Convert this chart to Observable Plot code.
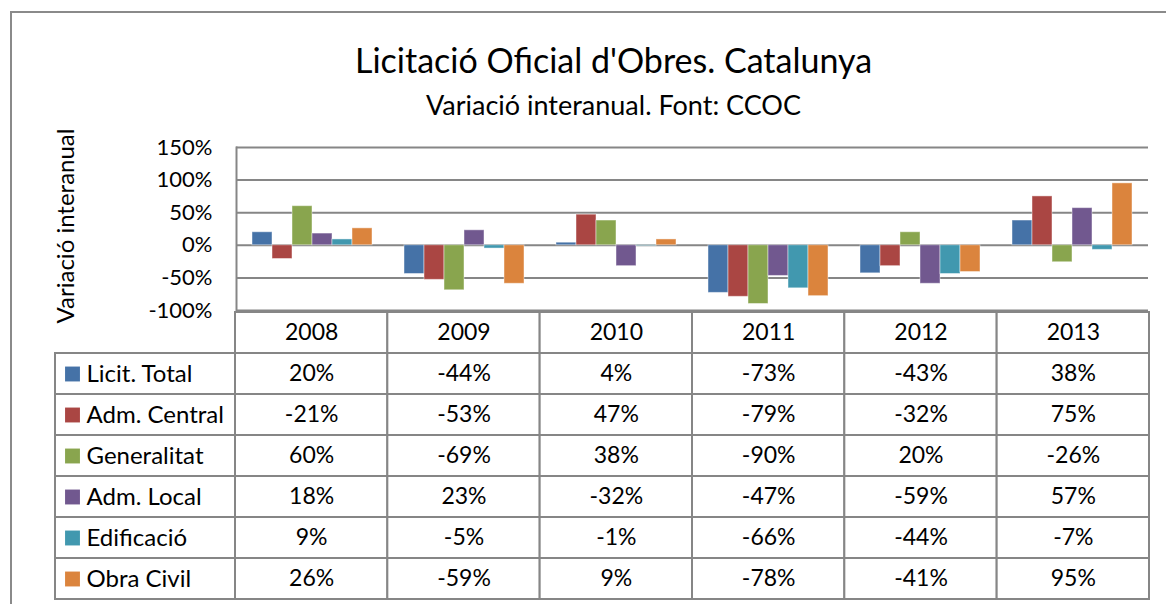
<!DOCTYPE html>
<html>
<head>
<meta charset="utf-8">
<script src="https://cdn.jsdelivr.net/npm/d3@7"></script>
<script src="https://cdn.jsdelivr.net/npm/@observablehq/plot@0.6"></script>
<style>
  html, body { margin: 0; padding: 0; background: #fff; }
  #wrap { position: relative; width: 1166px; height: 604px; overflow: hidden; font-family: Lato, "Noto Sans", sans-serif; color: #000; }
  #border { position: absolute; left: 10px; top: 11px; width: 1300px; height: 700px; border: 2px solid #8a8a8a; box-sizing: border-box; }
  #title { position: absolute; left: 0; width: 1227px; top: 43px; text-align: center; font-size: 34px; line-height: 1; }
  #subtitle { position: absolute; left: 0; width: 1227px; top: 91px; text-align: center; font-size: 27px; line-height: 1; }
  #chart { position: absolute; left: 0; top: 0; }
  #table { position: absolute; left: 0; top: 309px; }
</style>
</head>
<body>
<div id="wrap">
  <div id="border"></div>
  <div id="title">Licitació Oficial d'Obres. Catalunya</div>
  <div id="subtitle">Variació interanual. Font: CCOC</div>
  <div id="chart"></div>
  <div id="table"></div>
</div>
<script>
const years = ["2008", "2009", "2010", "2011", "2012", "2013"];
const series = ["Licit. Total", "Adm. Central", "Generalitat", "Adm. Local", "Edificació", "Obra Civil"];
const licitTotal = [20, -44, 4, -73, -43, 38];
const admCentral = [-21, -53, 47, -79, -32, 75];
const generalitat = [60, -69, 38, -90, 20, -26];
const admLocal = [18, 23, -32, -47, -59, 57];
const edificacio = [9, -5, -1, -66, -44, -7];
const obraCivil = [26, -59, 9, -78, -41, 95];
const colors = ["#4572A7", "#AA4643", "#89A54E", "#71588F", "#4198AF", "#DB843D"];
const yTicks = [-100, -50, 0, 50, 100, 150];
const yLabel = "Variació interanual";

const seriesValues = [licitTotal, admCentral, generalitat, admLocal, edificacio, obraCivil];
const rows = [];
series.forEach((s, si) => years.forEach((y, yi) => rows.push({series: s, year: y, yi, value: seriesValues[si][yi]})));

const FONT = "Lato, 'Noto Sans', sans-serif";
const GRID = "#868686";
const pct = d => d + "%";

const chart = Plot.plot({
  width: 1166,
  height: 312,
  marginTop: 147,
  marginBottom: 2,
  marginLeft: 235,
  marginRight: 17,
  style: {fontFamily: FONT, fontSize: "22px", color: "#000", background: "transparent", overflow: "visible"},
  fx: {domain: years, padding: 0, axis: null},
  x: {domain: series, paddingInner: 0, paddingOuter: 0.75, axis: null},
  y: {domain: [-100, 150], axis: null},
  color: {domain: series, range: colors},
  marks: [
    Plot.gridY(yTicks, {stroke: GRID, strokeOpacity: 1, strokeWidth: 2}),
    Plot.frame({anchor: "left", stroke: GRID, strokeWidth: 2, facetAnchor: "left"}),
    Plot.barY(rows, {fx: "year", x: "series", y: "value", fill: "series", stroke: "#ffffff", strokeOpacity: 0.45, strokeWidth: 1}),
    Plot.axisY(yTicks, {anchor: "left", tickSize: 0, tickPadding: 24, tickFormat: pct, fontSize: 22, label: null, facetAnchor: "left"}),
    Plot.text([yLabel], {frameAnchor: "left", textAnchor: "middle", lineAnchor: "middle", rotate: -90, dx: -170, dy: -3, fontSize: 24, facetAnchor: "left", fill: "#000"})
  ]
});
document.getElementById("chart").appendChild(chart);

const L = 180 / ((1149 - 235) / 6);
const rowKeys = ["__year__", ...series];
const headerCells = years.map((y, i) => ({row: "__year__", i, text: y}));
const valueCells = rows.map(d => ({row: d.series, i: d.yi, text: pct(d.value)}));
const labelCells = series.map(s => ({row: s, text: s}));

const table = Plot.plot({
  width: 1166,
  height: 293,
  marginTop: 1,
  marginBottom: 2,
  marginLeft: 55,
  marginRight: 17,
  style: {fontFamily: FONT, fontSize: "23px", color: "#000", background: "transparent", overflow: "visible"},
  x: {type: "linear", domain: [-L, 6], axis: null},
  y: {type: "band", domain: rowKeys, padding: 0, axis: null},
  color: {domain: series, range: colors},
  marks: [
    Plot.barX([...headerCells, ...valueCells], {x1: "i", x2: d => d.i + 1, y: "row", fill: "white", stroke: GRID, strokeWidth: 2}),
    Plot.barX(labelCells, {x1: -L, x2: 0, y: "row", fill: "white", stroke: GRID, strokeWidth: 2}),
    Plot.text([...headerCells, ...valueCells], {x: d => d.i + 0.5, y: "row", text: "text", fontSize: 23, fill: "#000"}),
    Plot.dot(labelCells, {x: -L, y: "row", dx: 17, symbol: "square", r: 8.4, fill: "row", stroke: "none"}),
    Plot.text(labelCells, {x: -L, y: "row", dx: 31, text: "text", textAnchor: "start", fontSize: 24, fill: "#000"})
  ]
});
document.getElementById("table").appendChild(table);
</script>
</body>
</html>
